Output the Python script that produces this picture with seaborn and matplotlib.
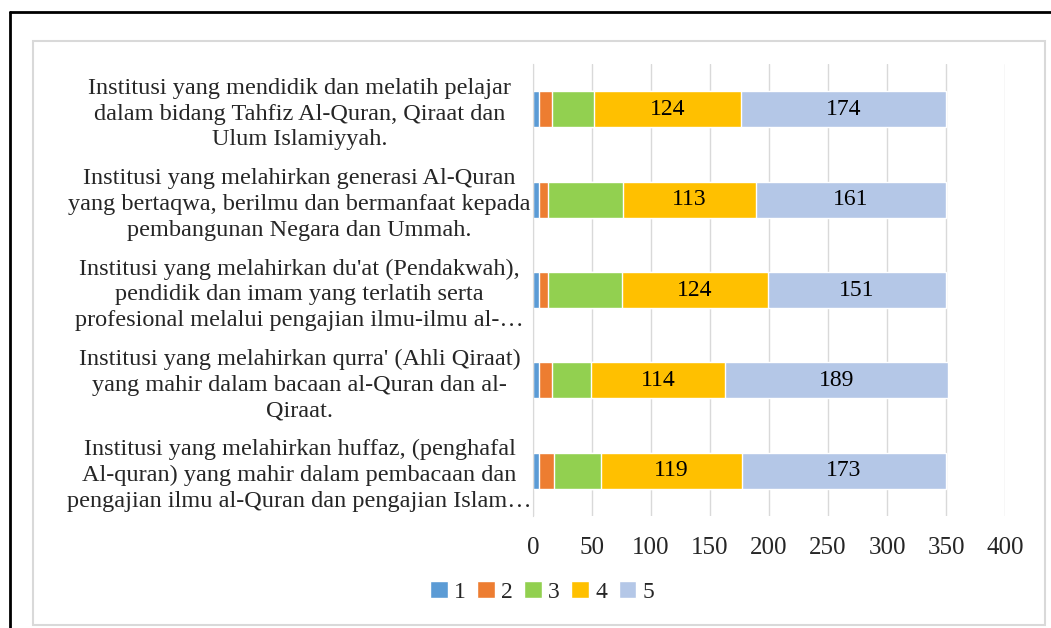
import numpy as np
import pandas as pd
import seaborn as sns
import matplotlib.pyplot as plt
from matplotlib.patches import Rectangle
from matplotlib.lines import Line2D

# statements (y categories), top to bottom
labels = [
    "Institusi yang mendidik dan melatih pelajar\ndalam bidang Tahfiz Al-Quran, Qiraat dan\nUlum Islamiyyah.",
    "Institusi yang melahirkan generasi Al-Quran\nyang bertaqwa, berilmu dan bermanfaat kepada\npembangunan Negara dan Ummah.",
    "Institusi yang melahirkan du'at (Pendakwah),\npendidik dan imam yang terlatih serta\nprofesional melalui pengajian ilmu-ilmu al-\u2026",
    "Institusi yang melahirkan qurra' (Ahli Qiraat)\nyang mahir dalam bacaan al-Quran dan al-\nQiraat.",
    "Institusi yang melahirkan huffaz, (penghafal\nAl-quran) yang mahir dalam pembacaan dan\npengajian ilmu al-Quran dan pengajian Islam\u2026",
]

# responses per scale point
s1 = [5, 5, 5, 5, 5]
s2 = [11, 8, 8, 11, 13]
s3 = [36, 63, 62, 33, 40]
s4 = [124, 113, 124, 114, 119]
s5 = [174, 161, 151, 189, 173]

series = ['1', '2', '3', '4', '5']
colors = ['#5B9BD5', '#ED7D31', '#92D050', '#FFC000', '#B4C7E7']

sns.set_style('white')
plt.rcParams['font.family'] = ['Liberation Serif', 'DejaVu Serif']

df = pd.DataFrame({'label': labels, '1': s1, '2': s2, '3': s3, '4': s4, '5': s5})
cum = df[series].cumsum(axis=1)

fig = plt.figure(figsize=(10.51, 6.28), dpi=100)
ax = fig.add_axes([533 / 1051, 1 - 516 / 628, (1005 - 533) / 1051, (516 - 64) / 628])

# stacked bars: draw cumulative totals from the largest down
for s, c in reversed(list(zip(series, colors))):
    sns.barplot(x=cum[s], y=df['label'], color=c, width=0.4, saturation=1,
                orient='h', ax=ax, label=s, zorder=2)

# value labels for series 4 and 5 only
for s in ['4', '5']:
    prev = cum[s] - df[s]
    for i, v in enumerate(df[s]):
        ax.text(prev[i] + v / 2, i, str(v), ha='center', va='center',
                fontsize=17, color='black', zorder=3)

ax.set_xlim(0, 400)
ax.set_xticks(range(0, 401, 50))
ax.xaxis.grid(True, color='#D9D9D9', lw=1)
ax.set_axisbelow(True)
ax.set_xlabel('')
ax.set_ylabel('')
for sp in ['top', 'right', 'bottom']:
    ax.spines[sp].set_visible(False)
ax.spines['left'].set_color('#D9D9D9')
ax.tick_params(axis='x', length=0, labelsize=18, pad=15)
ax.set_yticks(range(len(labels)))
ax.set_yticklabels(labels, ha='center', multialignment='center', fontsize=17.5,
                   linespacing=1.3)
ax.tick_params(axis='y', length=0, pad=168)

# legend in order 1..5
h, l = ax.get_legend_handles_labels()
order = sorted(range(len(l)), key=lambda k: l[k])
if ax.get_legend() is not None:
    ax.get_legend().remove()
fig.legend([h[k] for k in order], [l[k] for k in order], loc='center',
           bbox_to_anchor=(542 / 1051, 1 - 592 / 628), ncol=5, frameon=False,
           fontsize=17, handlelength=0.75, handleheight=0.75, handletextpad=0.25,
           columnspacing=0.5)

# chart area frame + page border
fig.add_artist(Rectangle((33 / 1051, 1 - 625 / 628), (1045 - 33) / 1051, (625 - 41) / 628,
                         transform=fig.transFigure, fill=False, ec='#D9D9D9', lw=1.5))
fig.add_artist(Line2D([10 / 1051, 10 / 1051], [0, 1 - 12 / 628], transform=fig.transFigure,
                      color='black', lw=2))
fig.add_artist(Line2D([10 / 1051, 1], [1 - 12 / 628, 1 - 12 / 628], transform=fig.transFigure,
                      color='black', lw=2))

fig.savefig('out.png', dpi=100)
